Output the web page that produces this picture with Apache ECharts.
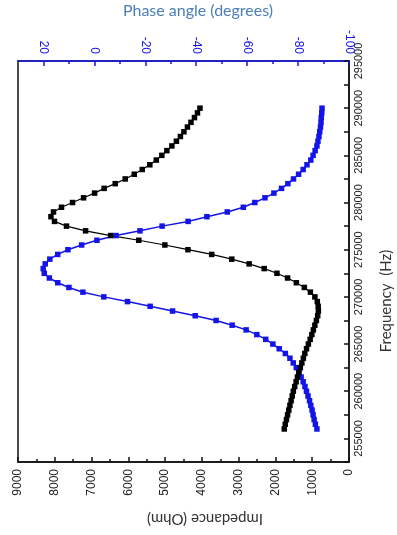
<!DOCTYPE html>
<html>
<head>
<meta charset="utf-8">
<script src="https://cdn.jsdelivr.net/npm/echarts@6.0.0/dist/echarts.min.js"></script>
<style>
  html, body { margin: 0; padding: 0; background: #fff; }
  #impedance_chart { width: 397px; height: 535px; }
</style>
</head>
<body>
<div id="impedance_chart"></div>
<script>
  // frequency sweep (Hz), one point every 500 Hz
  var freqHz = [
    256000, 256500, 257000, 257500, 258000, 258500, 259000, 259500, 260000, 260500,
    261000, 261500, 262000, 262500, 263000, 263500, 264000, 264500, 265000, 265500,
    266000, 266500, 267000, 267500, 268000, 268500, 269000, 269500, 270000, 270500,
    271000, 271500, 272000, 272500, 273000, 273500, 274000, 274500, 275000, 275500,
    276000, 276500, 277000, 277500, 278000, 278500, 279000, 279500, 280000, 280500,
    281000, 281500, 282000, 282500, 283000, 283500, 284000, 284500, 285000, 285500,
    286000, 286500, 287000, 287500, 288000, 288500, 289000, 289500, 290000
  ]
  // impedance (Ohm)
  var impedance = [
    1760, 1733, 1700, 1670, 1637, 1607, 1574, 1544, 1514, 1476,
    1438, 1402, 1364, 1323, 1282, 1241, 1201, 1154, 1105, 1056,
    1010, 969, 928, 887, 851, 832, 838, 862, 928, 1050,
    1214, 1432, 1670, 1959, 2306, 2715, 3187, 3733, 4379, 5007,
    5716, 6480, 7162, 7681, 8008, 8104, 8035, 7817, 7517, 7217,
    6917, 6658, 6357, 6085, 5839, 5621, 5416, 5239, 5089, 4952,
    4816, 4693, 4584, 4488, 4393, 4297, 4202, 4120, 4052
  ]
  // phase angle (degrees)
  var phase = [
    -87.4, -86.8, -86.3, -85.9, -85.5, -85.0, -84.5, -83.9, -83.3, -82.7,
    -82.0, -81.2, -80.3, -79.3, -78.1, -76.8, -75.0, -72.6, -70.1, -67.3,
    -63.8, -59.6, -54.1, -47.8, -39.6, -30.7, -21.9, -13.0, -3.7, 4.5,
    10.0, 14.4, 17.7, 19.7, 20.1, 19.3, 17.5, 14.4, 10.4, 5.0,
    -1.0, -8.5, -17.9, -26.6, -36.8, -44.2, -52.2, -58.5, -63.0, -67.0,
    -70.5, -73.5, -76.0, -78.2, -80.2, -82.0, -83.5, -85.0, -85.9, -86.7,
    -87.4, -87.8, -88.2, -88.5, -88.8, -89.0, -89.1, -89.3, -89.4
  ]
  var phaseMajorTicks = [-100, -80, -60, -40, -20, 0, 20]
  var phaseMinorTicks = [-90, -70, -50, -30, -10, 10]

  var blue = '#1414e8'
  var labelFont = 'Liberation Sans'

  var myChart = echarts.init(document.getElementById('impedance_chart'))

  var option = {
    animation: false,
    backgroundColor: '#fff',
    grid: {
      show: true,
      left: 18,
      right: 48,
      top: 61,
      bottom: 73,
      borderColor: '#111',
      borderWidth: 1.5
    },
    xAxis: [{
      // impedance, drawn along the bottom
      type: 'value',
      position: 'bottom',
      inverse: true,
      min: 0,
      max: 9000,
      interval: 1000,
      axisLine: { show: true, lineStyle: { color: '#111', width: 1.5 } },
      axisTick: { show: true, inside: true, length: 5, lineStyle: { color: '#111', width: 1.5 } },
      minorTick: { show: true, splitNumber: 2, length: 3, lineStyle: { color: '#111', width: 1.5 } },
      axisLabel: {
        rotate: 90,
        margin: 7,
        color: '#222',
        fontSize: 12,
        fontFamily: labelFont,
        formatter: function (v) { return String(v) }
      },
      splitLine: { show: false }
    }, {
      // phase angle, drawn along the top
      type: 'value',
      position: 'top',
      inverse: true,
      min: -100,
      max: 30,
      interval: 10,
      axisLine: { show: true, lineStyle: { color: blue, width: 1.5 } },
      axisTick: { show: true, inside: true, length: 5, customValues: phaseMajorTicks, lineStyle: { color: blue, width: 1.5 } },
      axisLabel: {
        rotate: 90,
        margin: 7,
        color: blue,
        fontSize: 12,
        fontFamily: labelFont,
        customValues: phaseMajorTicks,
        formatter: function (v) { return String(v) }
      },
      splitLine: { show: false }
    }, {
      // minor ticks of the phase axis
      type: 'value',
      position: 'top',
      inverse: true,
      min: -100,
      max: 30,
      interval: 10,
      axisLine: { show: false },
      axisTick: { show: true, inside: true, length: 3, customValues: phaseMinorTicks, lineStyle: { color: blue, width: 1.5 } },
      axisLabel: { show: false },
      splitLine: { show: false }
    }],
    yAxis: [{
      type: 'value',
      position: 'right',
      min: 252500,
      max: 295000,
      interval: 2500,
      axisLine: { show: true, lineStyle: { color: '#111', width: 1.5 } },
      axisTick: { show: true, inside: true, length: 5, lineStyle: { color: '#111', width: 1.5 } },
      axisLabel: {
        rotate: 90,
        margin: 4,
        color: '#222',
        fontSize: 11,
        fontFamily: labelFont,
        formatter: function (v) {
          return v % 5000 === 0 ? String(v) : ''
        }
      },
      splitLine: { show: false }
    }],
    graphic: [{
      type: 'text',
      x: 198,
      y: 11,
      style: {
        text: 'Phase angle (degrees)',
        fill: '#4a7ebb',
        font: '16px Lato',
        textAlign: 'center',
        textVerticalAlign: 'middle'
      }
    }, {
      type: 'text',
      x: 205,
      y: 519,
      rotation: Math.PI,
      style: {
        text: 'Impedance (Ohm)',
        fill: '#333',
        font: '15px Lato',
        textAlign: 'center',
        textVerticalAlign: 'middle'
      }
    }, {
      type: 'text',
      x: 386,
      y: 301,
      rotation: Math.PI / 2,
      style: {
        text: 'Frequency  (Hz)',
        fill: '#333',
        font: '15px Lato',
        textAlign: 'center',
        textVerticalAlign: 'middle'
      }
    }],
    series: [{
      name: 'Phase',
      type: 'line',
      xAxisIndex: 1,
      yAxisIndex: 0,
      symbol: 'rect',
      symbolSize: 5.5,
      lineStyle: { color: blue, width: 1.5 },
      itemStyle: { color: blue },
      data: phase.map(function (p, i) { return [p, freqHz[i]] })
    }, {
      name: 'Impedance',
      type: 'line',
      xAxisIndex: 0,
      yAxisIndex: 0,
      symbol: 'rect',
      symbolSize: 5.5,
      lineStyle: { color: '#000', width: 1.2 },
      itemStyle: { color: '#000' },
      data: impedance.map(function (z, i) { return [z, freqHz[i]] })
    }]
  }

  myChart.setOption(option)
</script>
</body>
</html>
